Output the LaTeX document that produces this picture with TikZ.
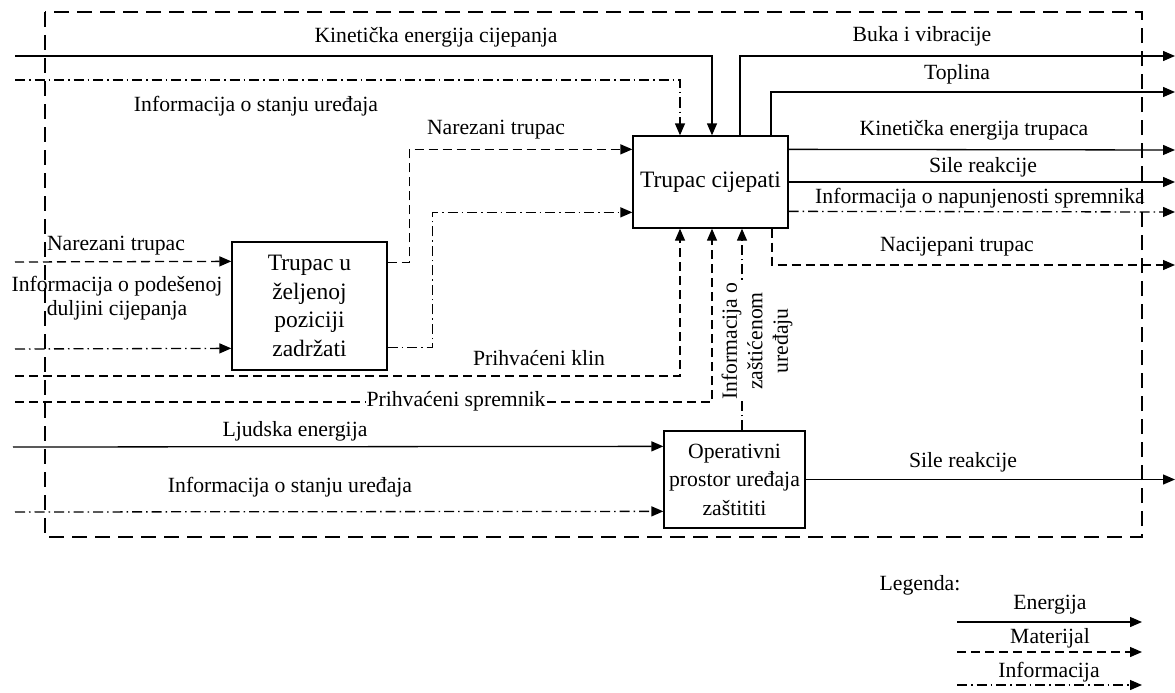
\documentclass[tikz,border=0pt]{standalone}
\usepackage{fontspec}
\setmainfont{Liberation Serif}
\usetikzlibrary{arrows.meta,calc}
\tikzset{
  en/.style={line width=1.3pt, -{Triangle[length=12pt,width=10pt]}},
  mat/.style={en, dash pattern=on 9pt off 5pt},
  inf/.style={en, dash pattern=on 10pt off 4pt on 1.5pt off 4pt},
  frame/.style={line width=1.3pt, dash pattern=on 15pt off 8pt},
  box/.style={draw, line width=1.3pt, align=center, inner sep=2pt, font=\fontsize{21.7}{28.5}\selectfont},
  bigbox/.style={box, font=\fontsize{23.5}{28.5}\selectfont},
  lbl/.style={inner sep=0pt, text height=15pt, text depth=5pt},
  mlbl/.style={inner sep=0pt, align=center, anchor=base, font=\fontsize{21.7}{23.5}\selectfont},
}
\begin{document}
\begin{tikzpicture}[x=1pt,y=-1pt, every node/.append style={font=\fontsize{21.7}{26}\selectfont}]
\useasboundingbox (0,0) rectangle (1175,693);

% outer dashed frame
\draw[frame] (45,12) rectangle (1142,537);

% boxes
\node[bigbox, minimum width=155pt, minimum height=92pt] (tc) at (710.5,182) {Trupac cijepati};
\node[bigbox, minimum width=155pt, minimum height=128pt] (tz) at (309.5,306) {Trupac u\\željenoj\\poziciji\\zadržati};
\node[box, minimum width=141pt, minimum height=97pt] (op) at (734.5,479.5) {Operativni\\prostor uređaja\\zaštititi};

% free ends
\coordinate (kinS) at (15,56);
\coordinate (infS) at (15,80);
\coordinate (bukaE) at (1175,56);
\coordinate (topE) at (1175,92);
\coordinate (ktE) at (1175,150);
\coordinate (srE) at (1175,182);
\coordinate (napE) at (1175,212);
\coordinate (nacE) at (1175,265);
\coordinate (narS) at (15,262);
\coordinate (podS) at (15,349);
\coordinate (klinS) at (15,376);
\coordinate (sprS) at (15,402);
\coordinate (ljS) at (13,447);
\coordinate (isS) at (15,512);
\coordinate (sr2E) at (1175,479.5);

% inputs to Trupac cijepati (top)
\draw[en] (kinS) -| ($(tc.north)+(1.5,0)$);
\draw[inf] (infS) -| ($(tc.north)+(-30.5,0)$);
% outputs from top
\draw[en] ($(tc.north)+(29.5,0)$) |- (bukaE);
\draw[en] ($(tc.north)+(60.5,0)$) |- (topE);
% outputs from right
\draw[en] ($(tc.north east)+(0,14)$) -- (ktE);
\draw[en] (tc.east) -- (srE);
\draw[inf] ($(tc.north east)+(0,76)$) -- (napE);
\draw[mat] ($(tc.south)+(61.5,0)$) |- (nacE);

% from small box to Trupac cijepati
\draw[mat] ($(tz.north east)+(0,21)$) -- ++(22,0) |- ($(tc.north west)+(0,14)$);
\draw[inf] ($(tz.north east)+(0,106)$) -- ++(45,0) |- ($(tc.north west)+(0,77)$);

% inputs to small box
\draw[mat] (narS) -- ($(tz.north west)+(0,20)$);
\draw[inf] (podS) -- ($(tz.north west)+(0,107)$);

% bottom inputs to Trupac cijepati
\draw[mat] (klinS) -| ($(tc.south)+(-30.5,0)$);
\draw[mat] (sprS) -| ($(tc.south)+(1.5,0)$);
\draw[inf] ($(op.north)+(7.5,0)$) -- ($(tc.south)+(31.5,0)$);

% Operativni inputs / outputs
\draw[en] (ljS) -- ($(op.north west)+(0,16)$);
\draw[inf] (isS) -- ($(op.north west)+(0,81)$);
\draw[en] (op.east) -- (sr2E);

% labels
\node[lbl] (l1) at (436,38) {Kinetička energija cijepanja};
\node[lbl] (l2) at (256,106) {Informacija o stanju uređaja};
\node[lbl] (l3) at (922,37) {Buka i vibracije};
\node[lbl] (l4) at (957,74) {Toplina};
\node[lbl] (l5) at (974,130) {Kinetička energija trupaca};
\node[lbl] (l6) at (983,167) {Sile reakcije};
\node[lbl] (l7) at (980,198) {Informacija o napunjenosti spremnika};
\node[lbl] (l8) at (957,246) {Nacijepani trupac};
\node[lbl] (l9) at (496,129) {Narezani trupac};
\node[lbl] (l10) at (539,360) {Prihvaćeni klin};
\node[lbl, fill=white, inner xsep=1pt] (l11) at (456,401) {Prihvaćeni spremnik};
\node[lbl] (l12) at (116,245) {Narezani trupac};
\node[mlbl] (l13) at (117,315) {Informacija o podešenoj\\duljini cijepanja};
\node[lbl] (l14) at (295,431) {Ljudska energija};
\node[lbl] (l15) at (290,487) {Informacija o stanju uređaja};
\node[lbl] (l16) at (963,462) {Sile reakcije};
\node[inner sep=1pt, fill=white, align=center, rotate=90, font=\fontsize{21.7}{25.5}\selectfont] (l17) at (757,341) {Informacija o\\zaštićenom\\uređaju};

% legend
\node[lbl] (lg) at (920,585) {Legenda:};
\node[lbl] (lge) at (1050,604) {Energija};
\node[lbl] (lgm) at (1050,638) {Materijal};
\node[lbl] (lgi) at (1049,672) {Informacija};
\coordinate (le1) at (957,622);
\coordinate (le2) at (1142,622);
\coordinate (lm1) at (957,652);
\coordinate (lm2) at (1142,652);
\coordinate (li1) at (957,685);
\coordinate (li2) at (1142,685);
\draw[en] (le1) -- (le2);
\draw[mat] (lm1) -- (lm2);
\draw[inf] (li1) -- (li2);
\end{tikzpicture}
\end{document}
